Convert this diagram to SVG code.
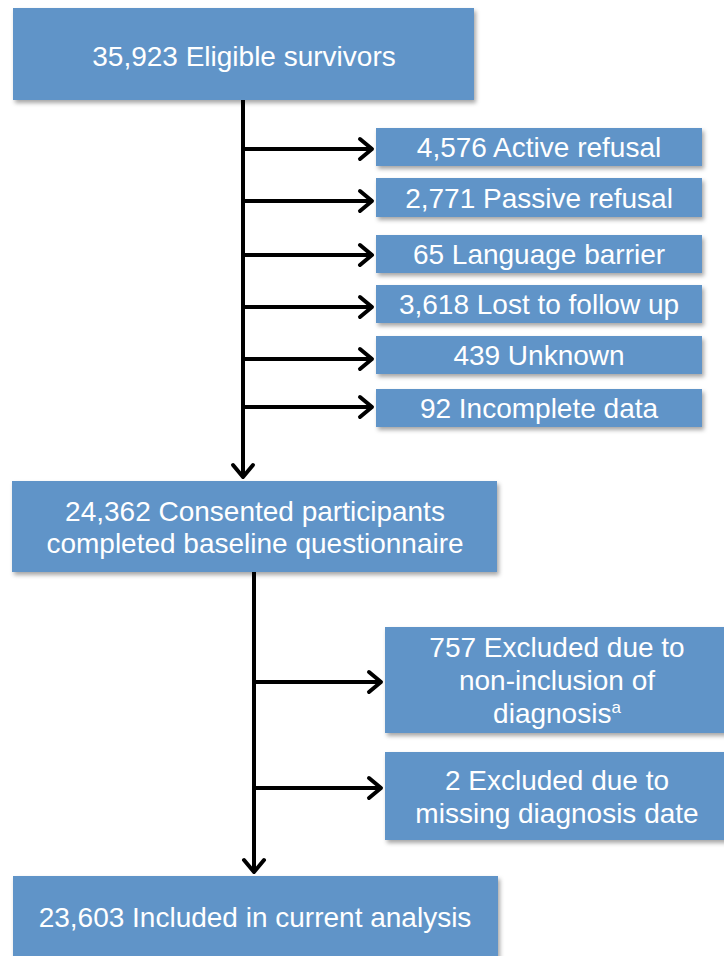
<svg xmlns="http://www.w3.org/2000/svg" width="724" height="956" viewBox="0 0 724 956">
<defs>
<filter id="sh" x="-5%" y="-10%" width="115%" height="130%">
<feDropShadow dx="2" dy="3" stdDeviation="2" flood-color="#000" flood-opacity="0.35"/>
</filter>
<marker id="arr" markerWidth="20" markerHeight="28" refX="15" refY="14" orient="auto" markerUnits="userSpaceOnUse">
<path d="M3,4 L15,14 L3,24" fill="none" stroke="#000" stroke-width="4" stroke-linecap="round" stroke-linejoin="round"/>
</marker>
</defs>
<style>
.box{fill:#6094C8;filter:url(#sh);}
.t{font-family:"Liberation Sans",Arial,sans-serif;font-size:28px;fill:#fff;text-anchor:middle;}
.c{stroke:#000;stroke-width:4;fill:none;}
</style>
<rect width="724" height="956" fill="#fff"/>
<g id="connectors">
<line class="c" x1="243" y1="100" x2="243" y2="477" marker-end="url(#arr)"/>
<line class="c" x1="241" y1="149" x2="372" y2="149" marker-end="url(#arr)"/>
<line class="c" x1="241" y1="201" x2="372" y2="201" marker-end="url(#arr)"/>
<line class="c" x1="241" y1="255" x2="372" y2="255" marker-end="url(#arr)"/>
<line class="c" x1="241" y1="307" x2="372" y2="307" marker-end="url(#arr)"/>
<line class="c" x1="241" y1="359" x2="372" y2="359" marker-end="url(#arr)"/>
<line class="c" x1="241" y1="407" x2="372" y2="407" marker-end="url(#arr)"/>
<line class="c" x1="254" y1="572" x2="254" y2="872" marker-end="url(#arr)"/>
<line class="c" x1="252" y1="682" x2="381" y2="682" marker-end="url(#arr)"/>
<line class="c" x1="252" y1="788" x2="381" y2="788" marker-end="url(#arr)"/>
</g>
<g id="eligible">
<rect class="box" x="13" y="8" width="461" height="92"/>
<text class="t" x="244" y="66">35,923 Eligible survivors</text>
</g>
<g id="active-refusal">
<rect class="box" x="376" y="128" width="326" height="38"/>
<text class="t" x="539" y="157">4,576 Active refusal</text>
</g>
<g id="passive-refusal">
<rect class="box" x="376" y="178" width="326" height="39"/>
<text class="t" x="539" y="208">2,771 Passive refusal</text>
</g>
<g id="language-barrier">
<rect class="box" x="376" y="235" width="326" height="38"/>
<text class="t" x="539" y="264">65 Language barrier</text>
</g>
<g id="lost-follow-up">
<rect class="box" x="376" y="285" width="326" height="38"/>
<text class="t" x="539" y="314">3,618 Lost to follow up</text>
</g>
<g id="unknown">
<rect class="box" x="376" y="336" width="326" height="38"/>
<text class="t" x="539" y="365">439 Unknown</text>
</g>
<g id="incomplete">
<rect class="box" x="376" y="389" width="326" height="38"/>
<text class="t" x="539" y="418">92 Incomplete data</text>
</g>
<g id="consented">
<rect class="box" x="12" y="481" width="485" height="91"/>
<text class="t" x="255" y="521">24,362 Consented participants</text>
<text class="t" x="255" y="553">completed baseline questionnaire</text>
</g>
<g id="excluded-diagnosis">
<rect class="box" x="385" y="627" width="345" height="106"/>
<text class="t" x="557" y="657">757 Excluded due to</text>
<text class="t" x="557" y="690">non-inclusion of</text>
<text class="t" x="557" y="723">diagnosis<tspan font-size="17" dy="-10">a</tspan></text>
</g>
<g id="excluded-date">
<rect class="box" x="385" y="752" width="345" height="88"/>
<text class="t" x="557" y="790">2 Excluded due to</text>
<text class="t" x="557" y="823">missing diagnosis date</text>
</g>
<g id="included">
<rect class="box" x="13" y="876" width="485" height="100"/>
<text class="t" x="255" y="927">23,603 Included in current analysis</text>
</g>
</svg>
